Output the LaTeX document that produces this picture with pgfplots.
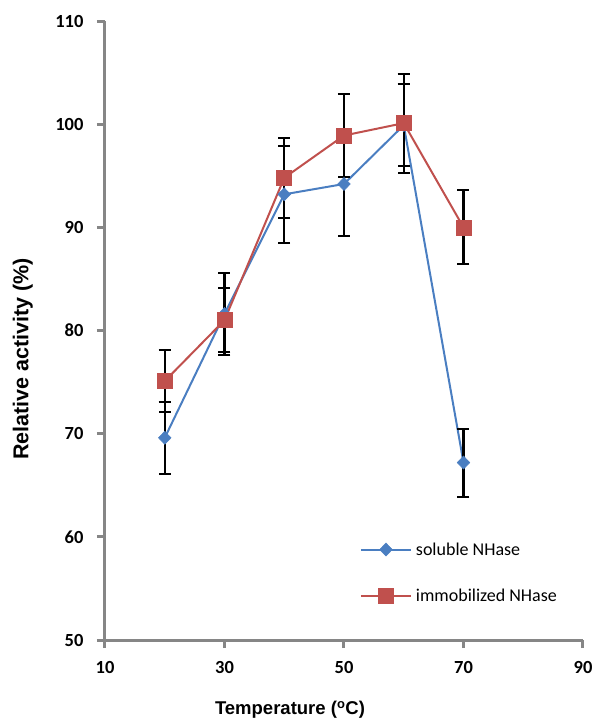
\documentclass[border=0pt]{standalone}
\usepackage{pgfplots}
\pgfplotsset{compat=1.18}
\usepackage{fontspec}
\setmainfont{Liberation Sans}
\newfontfamily\carlito{Carlito}
\definecolor{axgray}{RGB}{134,134,134}
\definecolor{xlblue}{RGB}{74,126,193}
\definecolor{xlred}{RGB}{192,80,77}
\begin{document}
\begin{tikzpicture}
\useasboundingbox (-105bp,-80bp) rectangle (491bp,640bp);
\begin{axis}[
  at={(0,0)}, anchor=south west,
  scale only axis, width=478bp, height=619bp,
  xmin=10, xmax=90, ymin=50, ymax=110,
  xtick={10,30,50,70,90}, ytick={50,60,...,110},
  axis x line=bottom, axis y line=left,
  axis line style={-, axgray, line width=3bp},
  tick align=outside, major tick length=8bp,
  tick style={axgray, line width=3bp},
  /pgf/number format/assume math mode=true,
  ticklabel style={font=\carlito\bfseries\fontsize{18.5bp}{20bp}\selectfont},
  xticklabel style={yshift=-10bp},
  yticklabel style={xshift=-10bp},
  xlabel={\bfseries Temperature (\textsuperscript{o}C)},
  ylabel={\bfseries Relative activity (\%)},
  xlabel style={font=\fontsize{18.5bp}{20bp}\selectfont, at={(axis description cs:0.387,-0.113)}, anchor=center},
  ylabel style={font=\fontsize{21.5bp}{23bp}\selectfont, at={(axis description cs:-0.172,0.454)}, anchor=center},
  legend style={at={(rel axis cs:0.533,0.161)}, anchor=north west, draw=none, fill=none,
    font=\carlito\fontsize{18bp}{20bp}\selectfont, row sep=28bp, inner sep=0pt,
    nodes={inner xsep=4bp}},
  legend cell align=left,
  legend image code/.code={\draw[mark repeat=2,mark phase=2,#1] plot coordinates {(0bp,0bp) (25bp,0bp) (50bp,0bp)};},
  error bars/error bar style={black, line width=2.2bp},
  error bars/error mark options={rotate=90, black, mark size=6bp, line width=2bp},
]
\addplot+[xlblue, line width=2bp, mark=diamond*, mark size=6.5bp,
  mark options={xlblue, fill=xlblue, line width=0.5bp, xscale=1.3},
  error bars/.cd, y dir=both, y explicit]
  coordinates {
  (20,69.6) +- (0,3.5)
  (30,81.6) +- (0,4.0)
  (40,93.2) +- (0,4.7)
  (50,94.2) +- (0,5.0)
  (60,99.9) +- (0,4.0)
  (70,67.2) +- (0,3.3)
  };
\addlegendentry{soluble NHase}
\addplot+[xlred, line width=2bp, mark=square*, mark size=7.5bp,
  mark options={xlred, fill=xlred, line width=0.5bp},
  error bars/.cd, y dir=both, y explicit]
  coordinates {
  (20,75.1) +- (0,3.0)
  (30,81.0) +- (0,3.1)
  (40,94.8) +- (0,3.9)
  (50,98.9) +- (0,4.0)
  (60,100.1) +- (0,4.8)
  (70,90.0) +- (0,3.6)
  };
\addlegendentry{immobilized NHase}
\end{axis}
\end{tikzpicture}
\end{document}
